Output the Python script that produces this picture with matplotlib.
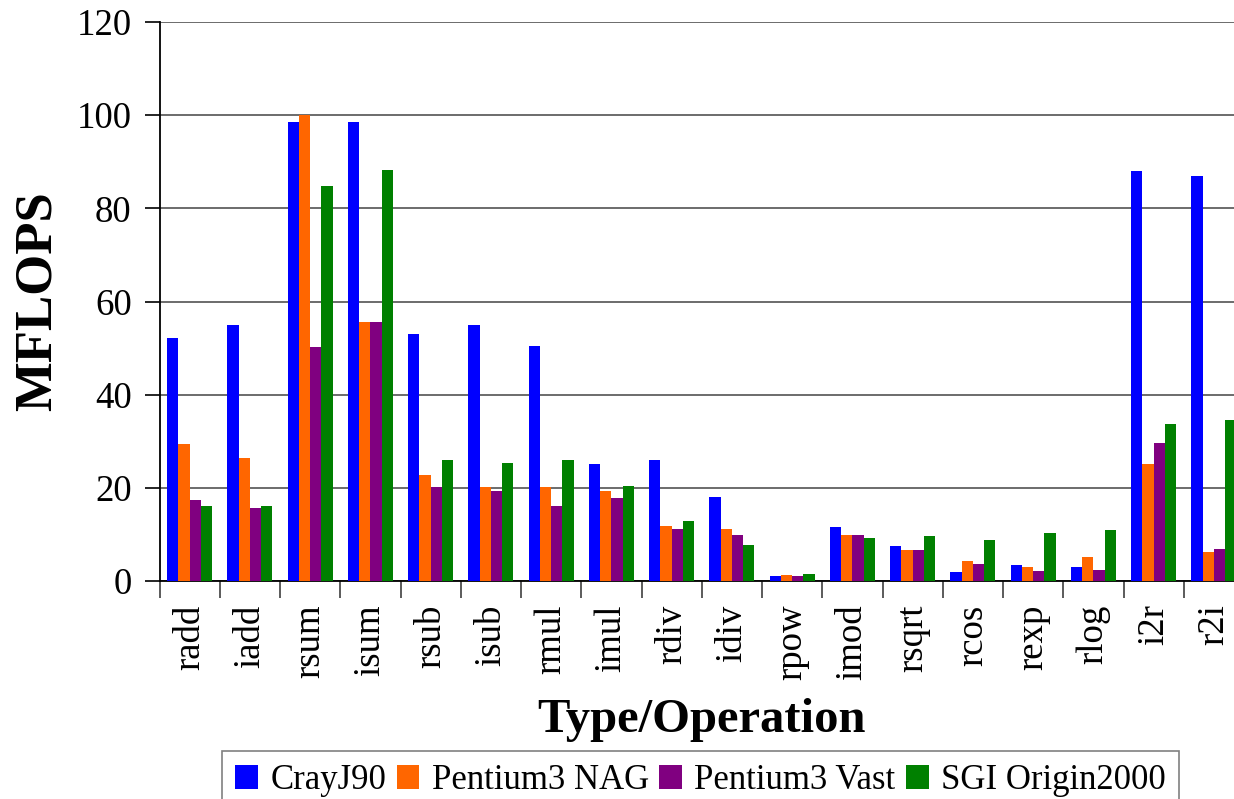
import matplotlib
matplotlib.use("Agg")
import matplotlib.pyplot as plt
import numpy as np
from matplotlib.patches import Patch

categories = ["radd", "iadd", "rsum", "isum", "rsub", "isub", "rmul", "imul", "rdiv",
              "idiv", "rpow", "imod", "rsqrt", "rcos", "rexp", "rlog", "i2r", "r2i"]
series_names = ["CrayJ90", "Pentium3 NAG", "Pentium3 Vast", "SGI Origin2000"]
cray = [52.1, 54.9, 98.5, 98.5, 53.1, 54.9, 50.5, 25.1, 26.0, 18.1, 1.0, 11.6, 7.5, 2.0, 3.4, 3.0, 88.1, 86.9]
nag = [29.5, 26.3, 100.0, 55.7, 22.8, 20.1, 20.1, 19.3, 11.8, 11.2, 1.3, 9.9, 6.6, 4.4, 3.0, 5.1, 25.1, 6.3]
vast = [17.4, 15.7, 50.2, 55.7, 20.1, 19.3, 16.2, 17.9, 11.2, 9.9, 1.0, 9.9, 6.6, 3.6, 2.1, 2.3, 29.6, 6.9]
sgi = [16.2, 16.2, 84.7, 88.3, 25.9, 25.3, 25.9, 20.3, 12.9, 7.8, 1.5, 9.2, 9.7, 8.7, 10.2, 10.9, 33.6, 34.6]
colors = ["#0000FF", "#FF6600", "#800080", "#008000"]
yticks = [0, 20, 40, 60, 80, 100, 120]

plt.rcParams['font.family'] = ['Liberation Serif', 'DejaVu Serif']

W, H = 1234, 799
fig = plt.figure(figsize=(W / 100, H / 100), dpi=100)
left, right, bottom, top = 159.5, 1244, 581, 22
ax = fig.add_axes([left / W, 1 - bottom / H, (right - left) / W, (bottom - top) / H])

x = np.arange(len(categories))
bw = 0.1875
data = [cray, nag, vast, sgi]
for i, (vals, c, name) in enumerate(zip(data, colors, series_names)):
    ax.bar(x + (i - 1.5) * bw, vals, width=bw, color=c, edgecolor='none', label=name, zorder=3)

ax.set_xlim(-0.5, len(categories) - 0.5)
ax.set_ylim(0, 120)
ax.set_yticks(yticks)
ax.set_yticklabels([str(v) for v in yticks], fontsize=26.5)
ax.yaxis.grid(True, color='#606060', linewidth=1.3, zorder=0)
ax.set_axisbelow(True)

ax.set_xticks(x)
ax.set_xticklabels(categories, rotation=90, fontsize=26.5)
ax.tick_params(axis='x', which='major', length=0, pad=17)
ax.set_xticks(np.arange(-0.5, len(categories), 1.0), minor=True)
ax.tick_params(axis='x', which='minor', length=12, width=1.2, color='#404040', direction='out')
ax.tick_params(axis='y', length=11, width=1.2, direction='out', pad=9)

for s in ['top', 'right']:
    ax.spines[s].set_visible(False)
ax.spines['left'].set_linewidth(1.3)
ax.spines['bottom'].set_linewidth(1.3)

ax.set_ylabel("MFLOPS", fontsize=38, fontweight='bold', labelpad=11)
ax.set_xlabel("Type/Operation", fontsize=35, fontweight='bold', labelpad=12.5)

handles = [Patch(facecolor=c, edgecolor='none') for c in colors]
leg = fig.legend(handles, series_names, loc='upper left', bbox_to_anchor=(222 / W, 1 - 751 / H),
                 ncol=4, fontsize=25, frameon=True, fancybox=False, handlelength=0.66,
                 handleheight=0.7, handletextpad=0.35, columnspacing=0.3, borderpad=0.38,
                 borderaxespad=0)
leg.get_frame().set_edgecolor('#606060')
leg.get_frame().set_linewidth(1.2)

fig.savefig("out.png", dpi=100)
